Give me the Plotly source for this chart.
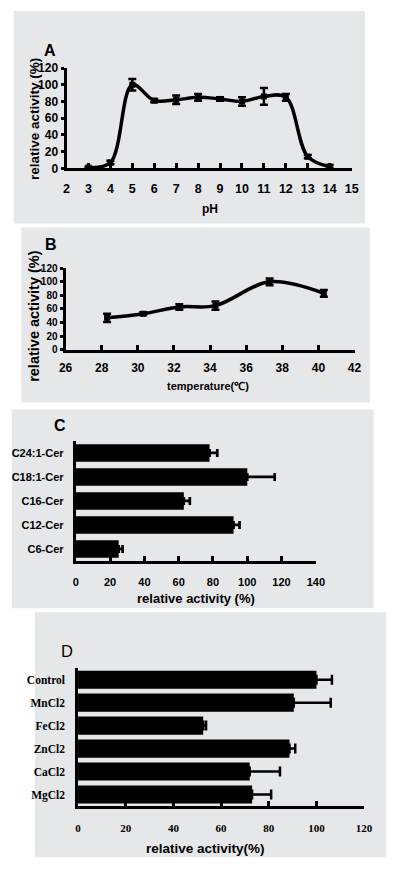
import plotly.graph_objects as go

W, H = 400, 873

# ---- data ----
ph = [3, 4, 5, 6, 7, 8, 9, 10, 11, 12, 13, 14]
ph_act = [1, 7, 100, 81, 82, 85, 83, 80, 86, 85, 14, 2]
ph_err = [1, 2, 7, 2, 5, 4, 2, 5, 10, 4, 2, 2]
ph_ticks = list(range(2, 16))

temp = [28.3, 30.3, 32.3, 34.3, 37.3, 40.3]
temp_act = [47, 53, 63, 65, 100, 83]
temp_err = [6, 2, 4, 6, 5, 5]
temp_ticks = list(range(26, 43, 2))

sub_labels = ["C24:1-Cer", "C18:1-Cer", "C16-Cer", "C12-Cer", "C6-Cer"]
sub_act = [78, 100, 63, 92, 25]
sub_err = [4.5, 16, 3.5, 3.5, 2.3]
sub_ticks = list(range(0, 141, 20))

ion_labels = ["Control", "MnCl2", "FeCl2", "ZnCl2", "CaCl2", "MgCl2"]
ion_act = [100, 90.5, 52.5, 88.7, 72, 73]
ion_err = [6.5, 15.5, 1.2, 2.4, 12.7, 8]
ion_ticks = list(range(0, 121, 20))

act_ticks = list(range(0, 121, 20))

SANS = "Liberation Sans, Arial, sans-serif"
SERIF = "Liberation Serif, Times New Roman, serif"
GRAY = "#E6E7E9"


def dx(a, b):
    return [a / W, b / W]


def dy(top, bottom):
    return [1 - bottom / H, 1 - top / H]


def px(x):
    return x / W


def py(y):
    return 1 - y / H


fig = go.Figure()

# A
fig.add_trace(go.Scatter(
    x=ph, y=ph_act, mode="lines+markers", xaxis="x", yaxis="y",
    line=dict(color="black", width=3.5, shape="spline", smoothing=1),
    marker=dict(symbol="square", size=6, color="black"),
    error_y=dict(type="data", array=ph_err, color="black", thickness=2.5, width=4),
    cliponaxis=False, showlegend=False))

# B
fig.add_trace(go.Scatter(
    x=temp, y=temp_act, mode="lines+markers", xaxis="x2", yaxis="y2",
    line=dict(color="black", width=3.5, shape="spline", smoothing=1),
    marker=dict(symbol="square", size=6, color="black"),
    error_y=dict(type="data", array=temp_err, color="black", thickness=2.5, width=4),
    showlegend=False))

# C
fig.add_trace(go.Bar(
    x=sub_act, y=sub_labels, orientation="h", xaxis="x3", yaxis="y3",
    marker=dict(color="black", line=dict(width=0)), width=0.73,
    error_x=dict(type="data", array=sub_err, arrayminus=[0] * len(sub_err),
                 symmetric=False, color="black", thickness=2.7, width=4),
    showlegend=False))

# D
fig.add_trace(go.Bar(
    x=ion_act, y=ion_labels, orientation="h", xaxis="x4", yaxis="y4",
    marker=dict(color="black", line=dict(width=0)), width=0.79,
    error_x=dict(type="data", array=ion_err, arrayminus=[0] * len(ion_err),
                 symmetric=False, color="black", thickness=2.5, width=5),
    showlegend=False))

bold = dict(family=SANS, color="black", weight="bold")

layout = dict(
    width=W, height=H, margin=dict(l=0, r=0, t=0, b=0),
    paper_bgcolor="white", plot_bgcolor="white",
    font=dict(family=SANS, color="black"),
    showlegend=False,
    # A
    xaxis=dict(domain=dx(62, 359), anchor="y", range=[2, 15], tickmode="array",
               tickvals=ph_ticks, showline=True, linewidth=3, linecolor="black",
               ticks="inside", ticklen=5, tickwidth=3, tickcolor="black",
               showgrid=False, zeroline=False, ticklabelstandoff=7,
               tickfont=dict(size=12.5, **bold)),
    yaxis=dict(domain=dy(62, 164), anchor="x", range=[0, 120], tickmode="array",
               tickvals=act_ticks, showline=True, linewidth=3, linecolor="black",
               ticks="outside", ticklen=3, tickwidth=3, tickcolor="black",
               showgrid=False, zeroline=False, ticklabelstandoff=0,
               tickfont=dict(size=12, **bold)),
    # B
    xaxis2=dict(domain=dx(61, 362), anchor="y2", range=[26, 42], tickmode="array",
                tickvals=temp_ticks, showline=True, linewidth=3, linecolor="black",
                ticks="inside", ticklen=5, tickwidth=3, tickcolor="black",
                showgrid=False, zeroline=False, ticklabelstandoff=5,
                tickfont=dict(size=12, **bold)),
    yaxis2=dict(domain=dy(265.5, 348.3), anchor="x2", range=[0, 120], tickmode="array",
                tickvals=act_ticks, showline=True, linewidth=3, linecolor="black",
                ticks="outside", ticklen=3, tickwidth=3, tickcolor="black",
                showgrid=False, zeroline=False, ticklabelstandoff=0,
                tickfont=dict(size=10, **bold)),
    # C
    xaxis3=dict(domain=dx(71.7, 321.7), anchor="y3", range=[0, 140], tickmode="array",
                tickvals=sub_ticks, showline=True, linewidth=3, linecolor="black",
                ticks="inside", ticklen=5, tickwidth=3, tickcolor="black",
                showgrid=False, zeroline=False, ticklabelstandoff=9,
                tickfont=dict(size=11, **bold)),
    yaxis3=dict(domain=dy(441, 563), anchor="x3", type="category",
                categoryorder="array", categoryarray=sub_labels, autorange="reversed",
                showline=True, linewidth=3, linecolor="black", ticks="",
                showgrid=False, zeroline=False, ticklabelstandoff=7,
                tickfont=dict(size=11, **bold)),
    # D
    xaxis4=dict(domain=dx(74, 372), anchor="y4", range=[0, 120], tickmode="array",
                tickvals=ion_ticks, showline=True, linewidth=2.5, linecolor="black",
                ticks="inside", ticklen=5, tickwidth=3, tickcolor="black",
                showgrid=False, zeroline=False, ticklabelstandoff=10,
                layer="below traces",
                tickfont=dict(size=11, family=SERIF, color="black", weight="bold")),
    yaxis4=dict(domain=dy(672, 812), anchor="x4", type="category",
                categoryorder="array", categoryarray=ion_labels, autorange="reversed",
                showline=True, linewidth=2.5, linecolor="black", ticks="",
                showgrid=False, zeroline=False, ticklabelstandoff=8,
                tickfont=dict(size=11.5, family=SERIF, color="black", weight="bold")),
)
fig.update_layout(**layout)

# gray panel boxes
boxes = [(7, 4, 373, 220), (15, 224, 378, 402), (5, 409, 382, 611), (29, 615, 395, 864)]
for (x0, y0, x1, y1) in boxes:
    fig.add_shape(type="rect", xref="paper", yref="paper",
                  x0=px(x0), x1=px(x1), y0=py(y1), y1=py(y0),
                  fillcolor=GRAY, line=dict(width=0), layer="below")

# annotations: panel letters and axis titles
ann = [
    dict(text="A", x=45, y=44, size=16, weight="bold", angle=0),
    dict(text="B", x=45.5, y=241, size=16, weight="bold", angle=0),
    dict(text="C", x=55, y=425, size=16, weight="bold", angle=0),
    dict(text="D", x=62, y=655, size=16.5, weight="normal", angle=0),
    dict(text="relative activity (%)", x=28, y=114, size=13.5, weight="bold", angle=-90),
    dict(text="pH", x=211, y=205, size=12, weight="bold", angle=0),
    dict(text="relative activity (%)", x=28, y=314, size=14.5, weight="bold", angle=-90),
    dict(text="temperature(℃)", x=209, y=385, size=11, weight="bold", angle=0),
    dict(text="relative activity (%)", x=197, y=601, size=13, weight="bold", angle=0),
    dict(text="relative activity(%)", x=207, y=855, size=13.5, weight="bold", angle=0),
]
for a in ann:
    fig.add_annotation(text=a["text"], x=px(a["x"]), y=py(a["y"]), xref="paper", yref="paper",
                       showarrow=False, textangle=a["angle"], xanchor="center", yanchor="middle",
                       font=dict(family=SANS, size=a["size"], color="black", weight=a["weight"]))

fig.write_html("out.html", config={"displayModeBar": False},
               post_script="document.body.style.margin='0';document.body.style.overflow='hidden';")
